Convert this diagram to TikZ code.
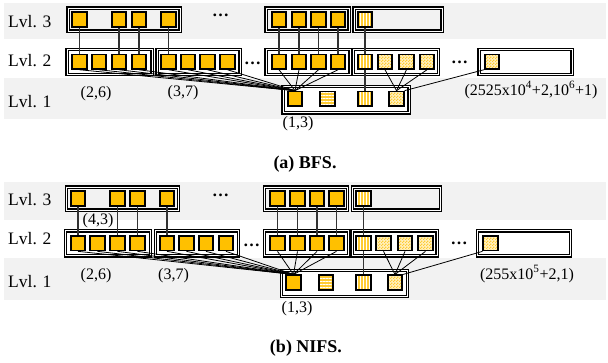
\documentclass[tikz,border=0pt]{standalone}
\usepackage{fontspec}
\setmainfont{Liberation Serif}
\usetikzlibrary{patterns,patterns.meta}
\definecolor{gold}{HTML}{FFC000}
\definecolor{band}{HTML}{F2F2F2}
\definecolor{paleY}{HTML}{FFCC33}
\definecolor{checkY}{HTML}{FFCC33}
\definecolor{checkBase}{HTML}{FFF0C0}

% small two-by-two check tile
\pgfdeclarepatternformonly{finechecks}{\pgfpointorigin}{\pgfqpoint{3pt}{3pt}}{\pgfqpoint{3pt}{3pt}}{%
  \pgfpathrectangle{\pgfpointorigin}{\pgfqpoint{1.5pt}{1.5pt}}%
  \pgfpathrectangle{\pgfqpoint{1.5pt}{1.5pt}}{\pgfqpoint{1.5pt}{1.5pt}}%
  \pgfusepath{fill}}

\tikzset{
  sq/.style={draw=black, line width=1.6pt, minimum size=14.5pt, inner sep=0pt},
  full/.style={sq, fill=gold},
  vstripe/.style={sq, preaction={fill=paleY},
    preaction={pattern={Lines[angle=90,distance=3pt,line width=0.9pt]}, pattern color=white}},
  hstripe/.style={sq, preaction={fill=paleY},
    preaction={pattern={Lines[angle=0,distance=3pt,line width=0.9pt]}, pattern color=white}},
  checker/.style={sq, preaction={fill=checkBase},
    preaction={pattern=finechecks, pattern color=checkY}},
  blk/.style={draw=black, line width=1.2pt, double=white, double distance=1pt, inner sep=0pt},
  vlink/.style={draw=black!80, line width=1.2pt},
  clink/.style={draw=black, line width=0.8pt},
  lvl/.style={font=\fontsize{17.5}{20}\selectfont, anchor=base west, inner sep=0pt},
  tag/.style={font=\fontsize{16}{19}\selectfont, inner sep=0pt},
  dots/.style={font=\bfseries\fontsize{17}{20}\selectfont, anchor=base, inner sep=0pt},
  caption/.style={font=\bfseries\fontsize{18}{21}\selectfont, inner sep=0pt},
}

% One three-level layout: #1 = level-3 row, #2 = level-2 row, #3 = level-1 row
\newcommand\levelpanel[3]{%
  % level 3 blocks
  \node[blk, minimum width=112pt, minimum height=23pt] (T1) at (124,#1) {};
  \node[blk, minimum width=83pt, minimum height=23pt] (T2) at (307.5,#1) {};
  \node[blk, minimum width=88pt, minimum height=23pt] (T3) at (398,#1) {};
  % level 2 blocks
  \node[blk, minimum width=85pt, minimum height=25pt] (M1) at (109.5,#2) {};
  \node[blk, minimum width=83pt, minimum height=25pt] (M2) at (198.5,#2) {};
  \node[blk, minimum width=84pt, minimum height=25pt] (M3) at (308,#2) {};
  \node[blk, minimum width=85pt, minimum height=25pt] (M4) at (396,#2) {};
  \node[blk, minimum width=93pt, minimum height=25pt] (M5) at (525.5,#2) {};
  % level 1 block
  \node[blk, fill=white, minimum width=126pt, minimum height=26.5pt] (B) at (346,#3) {};
  % level 3 entries
  \foreach \x [count=\i] in {79.5,119,139,168.5,279,299,318.5,338}
    \node[full] (t\i) at (\x,#1) {};
  \node[vstripe] (t9) at (365,#1) {};
  % level 2 entries
  \foreach \x [count=\i] in {79.5,99,119,139,168.5,188,207.5,227.5,279,299,318.5,338}
    \node[full] (m\i) at (\x,#2) {};
  \node[vstripe] (m13) at (365,#2) {};
  \node[checker] (m14) at (385,#2) {};
  \node[checker] (m15) at (406.5,#2) {};
  \node[checker] (m16) at (427,#2) {};
  \node[checker] (m17) at (492,#2) {};
  % level 1 entries
  \node[full] (b1) at (295,{#3-1}) {};
  \node[hstripe] (b2) at (327.5,{#3-1}) {};
  \node[vstripe] (b3) at (365,{#3-1}) {};
  \node[checker] (b4) at (396.5,{#3-1}) {};
  % links between levels
  \foreach \i/\j in {1/1,2/3,3/4,4/5,5/9,6/10,7/11,8/12,9/13}
    \draw[vlink] (t\i.south) -- (m\j.north);
  \draw[vlink] (m13.south) -- (b3.north);
  \foreach \j in {1,...,12}
    \draw[clink] (m\j.south) -- (b1.north);
  \foreach \j in {14,15,16}
    \draw[clink] (m\j.south) -- (b4.north);
  \draw[clink] (m17.south west) -- (b4.north east);
}

\begin{document}
\begin{tikzpicture}[x=1pt, y=-1pt]
  \useasboundingbox (0,0) rectangle (608,362);

  % row shading
  \fill[band] (4,3) rectangle (606,39);
  \fill[band] (4,78) rectangle (606,119);
  \fill[band] (4,182) rectangle (606,220);
  \fill[band] (4,258) rectangle (606,300);

  % ---- BFS ----
  \begin{scope}[name prefix=a-]
    \levelpanel{19.5}{61.7}{99.7}
    \node[lvl] (l3) at (8,27) {Lvl. 3};
    \node[lvl] (l2) at (8,66) {Lvl. 2};
    \node[lvl] (l1) at (8,107) {Lvl. 1};
    \node[dots] (d1) at (220.5,16.5) {…};
    \node[dots] (d2) at (252.5,64) {…};
    \node[dots] (d3) at (459.5,63.5) {…};
    \node[tag] (p26) at (96,94) {(2,6)};
    \node[tag] (p37) at (183,93) {(3,7)};
    \node[tag] (p13) at (298,124) {(1,3)};
    \node[tag] (pbig) at (531,90) {(2525x10\textsuperscript{4}+2,10\textsuperscript{6}+1)};
    \node[caption] (cap) at (305,164) {(a) BFS.};
  \end{scope}

  % ---- NIFS ----
  \begin{scope}[name prefix=b-, xshift=-1.5pt]
    \levelpanel{198.5}{243.3}{283.5}
  \end{scope}
  \begin{scope}[name prefix=b-]
    \node[lvl] (l3) at (8,205) {Lvl. 3};
    \node[lvl] (l2) at (8,244) {Lvl. 2};
    \node[lvl] (l1) at (8,287) {Lvl. 1};
    \node[dots] (d1) at (220.5,196) {…};
    \node[dots] (d2) at (251.5,246.5) {…};
    \node[dots] (d3) at (459,244) {…};
    \node[tag] (p43) at (98,221) {(4,3)};
    \node[tag] (p26) at (96,276) {(2,6)};
    \node[tag] (p37) at (173.5,276) {(3,7)};
    \node[tag] (p13) at (297,309) {(1,3)};
    \node[tag] (pbig) at (527,274) {(255x10\textsuperscript{5}+2,1)};
    \node[caption] (cap) at (306,348) {(b) NIFS.};
  \end{scope}
\end{tikzpicture}
\end{document}
